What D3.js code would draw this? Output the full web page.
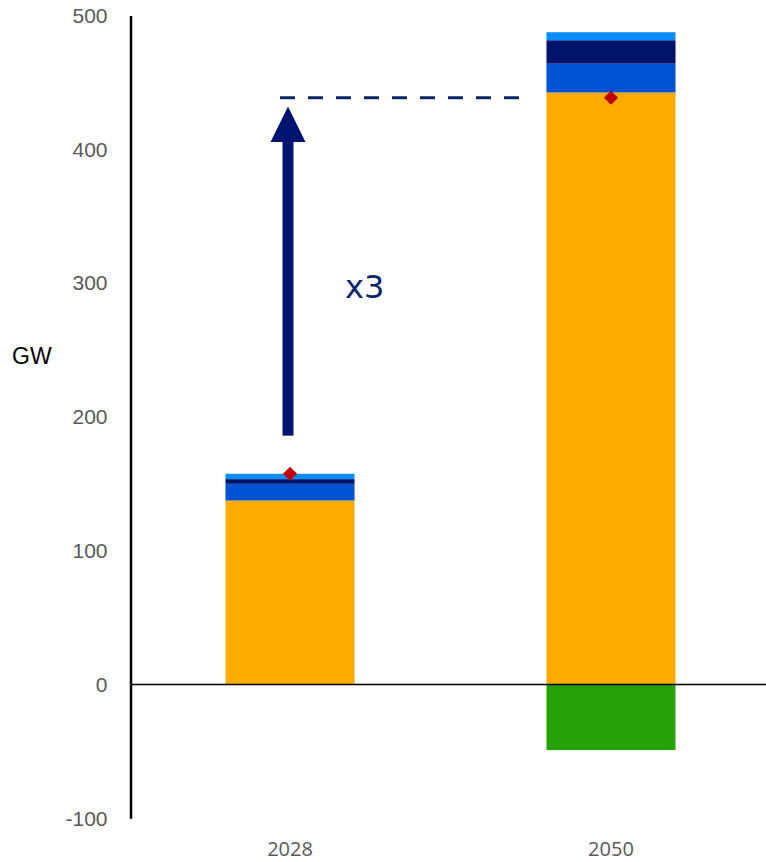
<!DOCTYPE html>
<html>
<head>
<meta charset="utf-8">
<script src="https://cdn.jsdelivr.net/npm/d3@7"></script>
<style>
  html, body { margin: 0; padding: 0; background: #fff; }
  svg { display: block; }
</style>
</head>
<body>
<svg id="chart" width="766" height="862"></svg>
<script>
// Capacity by year (GW), stacked by component
const years = ["2028", "2050"];
const baseValues = [137.5, 442.5];
const blueValues = [12.5, 21.5];
const navyValues = [3.5, 17.5];
const lightBlueValues = [4, 6];
const negativeValues = [0, -49];
const totalMarkers = [157.5, 438.5];
const yTicks = [-100, 0, 100, 200, 300, 400, 500];
const multiplierLabel = "x3";
const arrowFrom = 186;
const arrowTo = 432;
const targetLevel = 438.5;

const colors = {
  base: "#FFAB00",
  blue: "#0052D2",
  navy: "#00136B",
  lightBlue: "#0A8BFF",
  negative: "#26A206"
};

const svg = d3.select("#chart");

const x = d3.scaleBand()
  .domain(years)
  .range([130, 771])
  .paddingInner(0.598)
  .paddingOuter(0.2975);

const y = d3.scaleLinear()
  .domain([-100, 500])
  .range([818.3, 15.5]);

// Build stacked segments
const positiveSeries = [
  { key: "base", values: baseValues },
  { key: "blue", values: blueValues },
  { key: "navy", values: navyValues },
  { key: "lightBlue", values: lightBlueValues }
];
const segments = [];
years.forEach((yr, i) => {
  let acc = 0;
  positiveSeries.forEach(s => {
    const v = s.values[i];
    segments.push({ year: yr, key: s.key, y0: acc, y1: acc + v });
    acc += v;
  });
  if (negativeValues[i] < 0) {
    segments.push({ year: yr, key: "negative", y0: negativeValues[i], y1: 0 });
  }
});

svg.append("g")
  .selectAll("rect")
  .data(segments)
  .join("rect")
  .attr("x", d => x(d.year))
  .attr("width", x.bandwidth())
  .attr("y", d => y(Math.max(d.y0, d.y1)))
  .attr("height", d => Math.abs(y(d.y0) - y(d.y1)))
  .attr("fill", d => colors[d.key]);

// Y axis (no tick marks, grey labels, plain hyphen for negatives)
const yAxis = d3.axisLeft(y)
  .tickValues(yTicks)
  .tickSize(0)
  .tickPadding(23)
  .tickFormat(d => String(d));

const yg = svg.append("g")
  .attr("transform", "translate(130.5,0)")
  .call(yAxis);
yg.select(".domain").attr("stroke", "#000").attr("stroke-width", 2.5);
yg.selectAll("text")
  .attr("fill", "#595959")
  .attr("font-family", "'Liberation Sans', Arial, sans-serif")
  .attr("font-size", 21);

// Zero line
svg.append("line")
  .attr("x1", 130).attr("x2", 766)
  .attr("y1", y(0)).attr("y2", y(0))
  .attr("stroke", "#000").attr("stroke-width", 1.5);

// X axis labels
const xAxis = d3.axisBottom(x).tickSize(0).tickPadding(0);
const xg = svg.append("g")
  .attr("transform", "translate(0,842)")
  .call(xAxis);
xg.select(".domain").remove();
xg.selectAll("text")
  .attr("fill", "#595959")
  .attr("font-family", "'Open Sans', 'Liberation Sans', sans-serif")
  .attr("font-size", 20);

// Y axis title
svg.append("text")
  .attr("x", 12).attr("y", 364)
  .attr("font-family", "'Liberation Sans', Arial, sans-serif")
  .attr("font-size", 23)
  .attr("fill", "#000")
  .text("GW");

// Total markers (diamonds)
svg.append("g")
  .selectAll("path")
  .data(years.map((yr, i) => ({ year: yr, v: totalMarkers[i] })))
  .join("path")
  .attr("d", d3.symbol().type(d3.symbolSquare).size(100))
  .attr("transform", d => `translate(${x(d.year) + x.bandwidth() / 2},${y(d.v)}) rotate(45)`)
  .attr("fill", "#C00000");

// Dashed target line
const arrowX = x("2028") + x.bandwidth() / 2 - 2;
svg.append("line")
  .attr("x1", 280).attr("x2", 522)
  .attr("y1", y(targetLevel)).attr("y2", y(targetLevel))
  .attr("stroke", "#0C2462")
  .attr("stroke-width", 3)
  .attr("stroke-dasharray", "15,13");

// Growth arrow
const headBase = y(arrowTo) + 35.5;
svg.append("rect")
  .attr("x", arrowX - 5.5)
  .attr("width", 11)
  .attr("y", headBase - 1)
  .attr("height", y(arrowFrom) - headBase + 1)
  .attr("fill", "#00136E");
svg.append("path")
  .attr("d", `M${arrowX},${y(arrowTo)} L${arrowX + 17.5},${headBase} L${arrowX - 17.5},${headBase} Z`)
  .attr("fill", "#00136E");

svg.append("text")
  .attr("x", 345).attr("y", 298)
  .attr("font-family", "'DejaVu Sans', sans-serif")
  .attr("font-size", 32)
  .attr("fill", "#0B2668")
  .text(multiplierLabel);
</script>
</body>
</html>
